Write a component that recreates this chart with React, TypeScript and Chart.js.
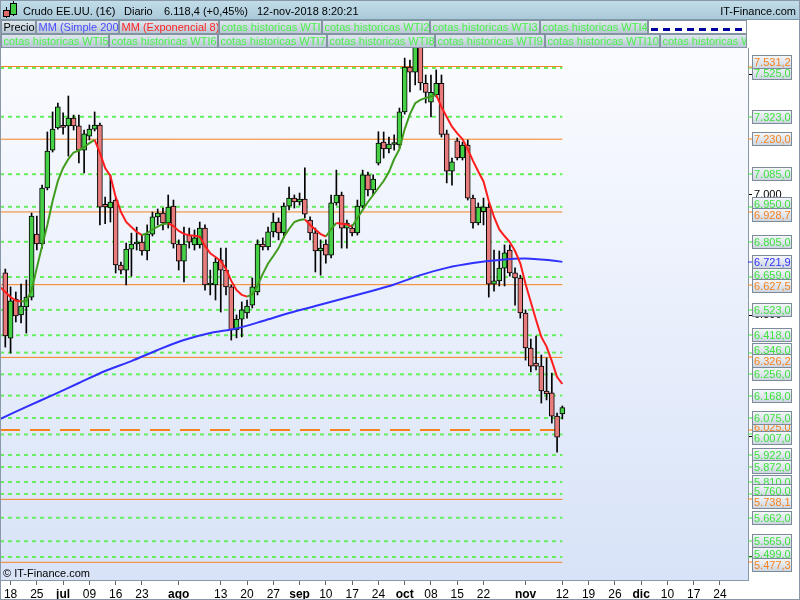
import React, { useEffect, useRef } from 'react';
import { Chart, registerables } from 'chart.js';

Chart.register(...registerables);

const FONT = '"Liberation Sans", Arial, Helvetica, sans-serif';

// Trading sessions: index 0 = 15-jun-2018 ... index 106 = 12-nov-2018
const opens = [6676,6406,6568,6502,6535,6576,6837,6796,7028,7185,7277,7285,7285,7318,7285,7185,7243,7272,7289,6960,6945,6978,6709,6688,6775,6796,6804,6767,6837,6908,6924,6883,6953,6796,6725,6833,6792,6792,6862,6626,6626,6730,6688,6618,6440,6485,6510,6543,6597,6796,6784,6846,6887,6842,6953,6986,6970,6982,6895,6842,6767,6796,6750,6966,6999,6862,6862,6842,6953,7082,7020,7131,7218,7190,7208,7206,7343,7529,7508,7641,7462,7383,7413,7462,7252,7098,7223,7152,7206,6986,6883,6930,6949,6630,6643,6696,6771,6676,6655,6510,6365,6303,6290,6187,6179,6083,6092];
const highs = [6692,6618,6597,6630,6647,6924,6912,7040,7260,7343,7380,7339,7409,7330,7330,7268,7289,7343,7297,6990,7082,6987,6721,6800,6841,6866,6833,6875,6928,6941,6945,6999,6978,6813,6866,6862,6854,6887,6875,6688,6738,6779,6779,6626,6502,6556,6564,6655,6813,6821,6866,6924,6904,6966,7032,6999,7007,7111,6908,6862,6813,6813,6999,7102,7011,6895,6875,6978,7102,7094,7082,7261,7260,7239,7248,7359,7566,7558,7690,7660,7496,7496,7517,7496,7268,7152,7235,7218,7227,6999,6966,6986,6966,6771,6767,6792,6792,6697,6667,6523,6402,6415,6336,6324,6261,6096,6125];
const lows = [6369,6344,6473,6469,6427,6564,6771,6779,7020,7177,7272,7251,7160,7268,7132,7090,7227,7264,6875,6880,6887,6676,6672,6626,6663,6771,6750,6730,6829,6875,6854,6862,6779,6688,6639,6779,6771,6779,6605,6585,6564,6514,6585,6398,6407,6411,6489,6531,6585,6771,6771,6825,6813,6821,6937,6945,6957,6904,6813,6680,6667,6717,6738,6957,6779,6779,6829,6833,6945,6995,6999,7123,7152,7173,7185,7194,7334,7426,7455,7434,7380,7322,7405,7239,7049,7040,7144,7144,6978,6862,6875,6875,6576,6601,6622,6622,6663,6543,6489,6315,6266,6274,6137,6150,6054,5934,6071];
const closes = [6415,6560,6498,6539,6576,6912,6796,7028,7181,7272,7364,7279,7318,7285,7185,7252,7272,7289,6949,6950,6970,6709,6688,6775,6796,6804,6767,6837,6908,6924,6883,6949,6796,6725,6796,6804,6821,6862,6626,6630,6721,6688,6618,6440,6485,6523,6539,6618,6796,6784,6846,6887,6842,6953,6986,6970,6982,6920,6842,6767,6779,6750,6966,6999,6862,6883,6842,6953,7082,7020,7065,7214,7190,7210,7210,7343,7529,7508,7641,7463,7424,7424,7462,7250,7098,7136,7152,7206,6986,6883,6949,6950,6630,6643,6696,6759,6676,6655,6510,6365,6290,6290,6187,6175,6083,5996,6118];

// MM (Exponencial 8): session index -1 .. 106
const emaStart = -1;
const emaVals = [6618,6597,6576,6562,6558,6560,6605,6697,6788,6875,6974,7057,7111,7148,7175,7183,7198,7214,7227,7173,7111,7078,6991,6929,6887,6866,6846,6833,6841,6856,6868,6879,6881,6870,6850,6838,6832,6830,6826,6788,6757,6742,6726,6692,6643,6605,6585,6578,6587,6624,6672,6715,6746,6779,6825,6858,6887,6895,6898,6875,6856,6837,6827,6858,6883,6880,6877,6868,6904,6937,6970,6999,7028,7057,7094,7148,7189,7272,7334,7379,7393,7401,7407,7413,7364,7322,7282,7254,7231,7189,7140,7096,7055,6974,6908,6856,6829,6804,6767,6716,6630,6556,6481,6411,6371,6311,6245,6216];

// MM (Simple 200), read at weekly sessions
const smaIdx = [-1,4,9,14,19,24,29,34,39,44,49,54,59,64,69,74,79,84,89,94,99,104,106];
const smaVals = [6071,6121,6170,6220,6270,6311,6357,6398,6427,6446,6477,6510,6539,6568,6597,6628,6667,6697,6717,6730,6736,6728,6721.9];

// cotas historicas (green dashed)
const supportLevels = [7525,7323,7085,6950,6805,6659,6523,6418,6346,6256,6168,6075,6007,5922,5872,5810,5760,5662,5565,5499];
// orange solid levels
const pivotLevels = [7531.2,7230.0,6928.7,6627.5,6326.2,5738.1,5477.3];
// orange long-dashed level
const dashedLevels = [6025.0];

const priceTicks = [5500,6000,6500,7000,7500];

const xTickIdx = [1,6,11,16,21,26,33,41,46,51,56,61,66,71,76,81,86,91,99,106,111,116,121,126,131,136];
const xTickLabels = ['18','25','jul','09','16','23','ago','13','20','27','sep','10','17','24','oct','08','15','22','nov','12','19','26','dic','10','17','24'];
const monthLabels = ['jul','ago','sep','oct','nov','dic'];

const legendRow1 = [
  { text: 'Precio', color: '#000000' },
  { text: 'MM (Simple 200)', color: '#4a4aff' },
  { text: 'MM (Exponencial 8)', color: '#ff2424' },
  { text: 'cotas historicas WTI', color: '#4cf04c' },
  { text: 'cotas historicas WTI2', color: '#4cf04c' },
  { text: 'cotas historicas WTI3', color: '#4cf04c' },
  { text: 'cotas historicas WTI4', color: '#4cf04c' },
];
const legendRow1Edges = [1, 36, 119, 219, 322, 430, 540, 648];
const legendRow2 = ['cotas historicas WTI5','cotas historicas WTI6','cotas historicas WTI7','cotas historicas WTI8','cotas historicas WTI9','cotas historicas WTI10','cotas historicas WTI11'];
const legendRow2Edges = [1, 109, 218, 327, 435, 545, 660, 747];

const X_MIN = -1.009;
const X_MAX = 141.33;
const Y_MIN = 5404.05;
const Y_MAX = 7723.85;

const GREEN_LINE = '#66ee5e';
const GREEN_TXT = '#3ee23e';
const ORANGE = '#f5821f';
const BLUE = '#3030ff';
const EMA_RED = '#ff1e1e';
const EMA_GREEN = '#3f9c1e';

const fmt0 = (v: number) => Math.round(v).toString().replace(/\B(?=(\d{3})+(?!\d))/g, '.');
const fmt1 = (v: number) => {
  const [i, d] = v.toFixed(1).split('.');
  return i.replace(/\B(?=(\d{3})+(?!\d))/g, '.') + ',' + d;
};

const lastIdx = closes.length - 1;

function levelDataset(v: number, color: string, width: number, dash: number[]) {
  return {
    type: 'line' as const,
    data: [{ x: X_MIN, y: v }, { x: lastIdx, y: v }],
    borderColor: color,
    borderWidth: width,
    borderDash: dash,
    pointRadius: 0,
    fill: false,
    order: 10,
  };
}

function drawBox(ctx: CanvasRenderingContext2D, x0: number, x1: number, top: number, h: number, white = false) {
  if (white) {
    ctx.fillStyle = '#ffffff';
  } else {
    const g = ctx.createLinearGradient(0, top, 0, top + h);
    g.addColorStop(0, '#e2eaf0');
    g.addColorStop(1, '#b6c6d2');
    ctx.fillStyle = g;
  }
  ctx.fillRect(x0, top, x1 - x0, h);
  ctx.strokeStyle = '#8393a2';
  ctx.lineWidth = 1;
  ctx.strokeRect(x0 + 0.5, top + 0.5, x1 - x0 - 1, h - 1);
}

const overlayPlugin = {
  id: 'overlay',
  beforeDraw(chart: any) {
    const { ctx, chartArea: a } = chart;
    ctx.save();
    ctx.fillStyle = '#ffffff';
    ctx.fillRect(0, 0, chart.width, chart.height);
    const g = ctx.createLinearGradient(0, a.top, 0, a.bottom);
    g.addColorStop(0, '#fcfdff');
    g.addColorStop(1, '#d8e3f8');
    ctx.fillStyle = g;
    ctx.fillRect(a.left, a.top, a.right - a.left, a.bottom - a.top);
    ctx.restore();
  },
  afterDraw(chart: any) {
    const { ctx } = chart;
    const ys = chart.scales.y;
    ctx.save();

    // header bar
    const hg = ctx.createLinearGradient(0, 0, 0, 20);
    hg.addColorStop(0, '#c3deea');
    hg.addColorStop(1, '#a9c8d8');
    ctx.fillStyle = hg;
    ctx.fillRect(0, 0, 800, 20);
    ctx.fillStyle = '#7f98a6';
    ctx.fillRect(0, 19, 800, 1);
    // icon
    ctx.strokeStyle = '#000';
    ctx.lineWidth = 1;
    ctx.beginPath(); ctx.moveTo(6.5, 7); ctx.lineTo(6.5, 18); ctx.stroke();
    ctx.fillStyle = '#e06a6a'; ctx.fillRect(4, 10, 5, 7); ctx.strokeRect(3.5, 10.5, 6, 6);
    ctx.beginPath(); ctx.moveTo(13.5, 1); ctx.lineTo(13.5, 16); ctx.stroke();
    ctx.fillStyle = '#44cc44'; ctx.fillRect(11, 4, 5, 11); ctx.strokeRect(10.5, 3.5, 6, 11);
    ctx.fillStyle = '#000';
    ctx.font = `11px ${FONT}`;
    ctx.textBaseline = 'alphabetic';
    ctx.textAlign = 'left';
    ctx.fillText('Crudo EE.UU. (1€)', 23, 15);
    ctx.fillText('Diario', 124, 15);
    ctx.fillText('6.118,4 (+0,45%)', 164, 15);
    ctx.fillText('12-nov-2018 8:20:21', 257, 15);
    ctx.textAlign = 'right';
    ctx.fillText('IT-Finance.com', 796, 15);
    ctx.textAlign = 'left';

    // legend rows
    ctx.fillStyle = '#ffffff';
    ctx.fillRect(0, 20, 800, 28);
    legendRow1.forEach((it, k) => {
      const x0 = legendRow1Edges[k], x1 = legendRow1Edges[k + 1];
      drawBox(ctx, x0, x1, 20, 14);
      ctx.save();
      ctx.beginPath(); ctx.rect(x0 + 1, 20, x1 - x0 - 2, 14); ctx.clip();
      ctx.fillStyle = it.color;
      ctx.fillText(it.text, x0 + 2.5, 31);
      ctx.restore();
    });
    drawBox(ctx, 648, 747, 20, 14, true);
    ctx.save();
    ctx.strokeStyle = '#0000a0';
    ctx.lineWidth = 3;
    ctx.setLineDash([7, 5]);
    ctx.beginPath(); ctx.moveTo(651, 29.5); ctx.lineTo(745, 29.5); ctx.stroke();
    ctx.restore();
    legendRow2.forEach((t, k) => {
      const x0 = legendRow2Edges[k], x1 = legendRow2Edges[k + 1];
      drawBox(ctx, x0, x1, 34, 14);
      ctx.save();
      ctx.beginPath(); ctx.rect(x0 + 1, 34, x1 - x0 - 2, 14); ctx.clip();
      ctx.fillStyle = '#4cf04c';
      ctx.fillText(t, x0 + 2.5, 45);
      ctx.restore();
    });

    // right axis value boxes
    type Lab = { v: number; color: string; layer: number; y: number; yc: number };
    const labs: Lab[] = [];
    dashedLevels.forEach(v => labs.push({ v, color: ORANGE, layer: 0, y: 0, yc: 0 }));
    supportLevels.forEach(v => labs.push({ v, color: GREEN_TXT, layer: 1, y: 0, yc: 0 }));
    pivotLevels.forEach(v => labs.push({ v, color: ORANGE, layer: 2, y: 0, yc: 0 }));
    labs.push({ v: smaVals[smaVals.length - 1], color: BLUE, layer: 3, y: 0, yc: 0 });
    labs.forEach(l => { l.y = ys.getPixelForValue(l.v); l.yc = l.y; });
    const sorted = [...labs].sort((p, q) => p.y - q.y);
    const shifts = sorted.map(() => 0);
    const SEP = 11;
    for (let k = 0; k < sorted.length - 1; k++) {
      const d = sorted[k + 1].y - sorted[k].y;
      if (d < SEP) {
        const s = (SEP - d) / 2;
        shifts[k] -= s;
        shifts[k + 1] += s;
      }
    }
    sorted.forEach((l, k) => { l.yc = l.y + shifts[k]; });
    const byLayer = [...labs].sort((p, q) => p.layer - q.layer);
    ctx.font = `11px ${FONT}`;
    ctx.textBaseline = 'middle';
    byLayer.forEach(l => {
      ctx.fillStyle = l.color;
      ctx.fillRect(748, Math.round(l.y) - 0.5, 4, 1);
      const top = Math.round(l.yc - 7);
      const g = ctx.createLinearGradient(0, top, 0, top + 14);
      g.addColorStop(0, '#f7f9fc');
      g.addColorStop(1, '#c9d3df');
      ctx.fillStyle = g;
      ctx.fillRect(752, top, 40, 14);
      ctx.strokeStyle = '#7d8b99';
      ctx.lineWidth = 1;
      ctx.strokeRect(752.5, top + 0.5, 39, 13);
      ctx.fillStyle = l.color;
      ctx.fillText(fmt1(l.v), 754, top + 7.5);
    });

    // copyright
    ctx.fillStyle = '#000';
    ctx.textBaseline = 'alphabetic';
    ctx.font = `11px ${FONT}`;
    ctx.fillText('© IT-Finance.com', 3, 577);

    // frame
    ctx.strokeStyle = '#8898a8';
    ctx.lineWidth = 1;
    ctx.strokeRect(0.5, 0.5, 799, 599);
    ctx.restore();
  },
};

export default function App() {
  const ref = useRef<HTMLCanvasElement>(null);
  useEffect(() => {
    document.body.style.margin = '0';
    const idx = closes.map((_, i) => i);
    const bodyColors = idx.map(i => (closes[i] >= opens[i] ? '#46d046' : '#e87b7b'));
    const datasets: any[] = [];
    supportLevels.forEach(v => datasets.push(levelDataset(v, GREEN_LINE, 2, [4, 4])));
    pivotLevels.forEach(v => datasets.push(levelDataset(v, ORANGE, 1, [])));
    dashedLevels.forEach(v => datasets.push(levelDataset(v, ORANGE, 2, [20, 10])));
    datasets.push({
      type: 'bar',
      data: idx.map(i => ({ x: i, y: [lows[i], highs[i]] })),
      backgroundColor: '#000000',
      borderWidth: 0,
      barThickness: 1,
      grouped: false,
      order: 5,
    });
    datasets.push({
      type: 'bar',
      data: idx.map(i => ({ x: i, y: [opens[i], closes[i]] })),
      backgroundColor: bodyColors,
      borderColor: '#000000',
      borderWidth: 1,
      borderSkipped: false,
      barThickness: 5,
      minBarLength: 2,
      grouped: false,
      order: 4,
    });
    datasets.push({
      type: 'line',
      data: smaIdx.map((x, k) => ({ x, y: smaVals[k] })),
      borderColor: BLUE,
      borderWidth: 2,
      pointRadius: 0,
      tension: 0.3,
      fill: false,
      order: 2,
    });
    datasets.push({
      type: 'line',
      data: emaVals.map((y, k) => ({ x: emaStart + k, y })),
      borderColor: EMA_RED,
      borderWidth: 2,
      pointRadius: 0,
      fill: false,
      order: 1,
      segment: {
        borderColor: (c: any) => (c.p1.parsed.y < c.p0.parsed.y ? EMA_RED : EMA_GREEN),
      },
    });

    const chart = new Chart(ref.current as HTMLCanvasElement, {
      type: 'bar',
      data: { datasets },
      options: {
        animation: false,
        responsive: false,
        events: [],
        layout: { padding: { top: 20, left: 0, right: 0, bottom: 0 } },
        plugins: { legend: { display: false }, tooltip: { enabled: false } },
        scales: {
          x: {
            type: 'linear',
            min: X_MIN,
            max: X_MAX,
            offset: false,
            position: 'bottom',
            afterBuildTicks: (s: any) => { s.ticks = xTickIdx.map(v => ({ value: v })); },
            afterFit: (s: any) => { s.height = 20; },
            grid: { drawOnChartArea: false, drawTicks: true, tickLength: 5, color: '#666666', offset: false },
            border: { display: true, color: '#8898a8' },
            ticks: {
              autoSkip: false,
              maxRotation: 0,
              minRotation: 0,
              padding: 2,
              color: '#000000',
              font: (c: any) => ({ family: FONT, size: 12, weight: monthLabels.includes(xTickLabels[c.index]) ? 'bold' : 'normal' }),
              callback: (_v: any, i: number) => xTickLabels[i],
            },
          },
          y: {
            type: 'linear',
            position: 'right',
            min: Y_MIN,
            max: Y_MAX,
            afterBuildTicks: (s: any) => { s.ticks = priceTicks.map(v => ({ value: v })); },
            afterFit: (s: any) => { s.width = 52; },
            grid: { drawOnChartArea: false, drawTicks: true, tickLength: 4, color: '#000000' },
            border: { display: true, color: '#8898a8' },
            ticks: {
              padding: 2,
              color: '#000000',
              font: { family: FONT, size: 11 },
              callback: (v: any) => fmt0(Number(v)),
            },
          },
        },
      } as any,
      plugins: [overlayPlugin],
    });
    return () => chart.destroy();
  }, []);
  return (
    <div style={{ width: 800, height: 600 }}>
      <canvas ref={ref} width={800} height={600} style={{ display: 'block' }} />
    </div>
  );
}
